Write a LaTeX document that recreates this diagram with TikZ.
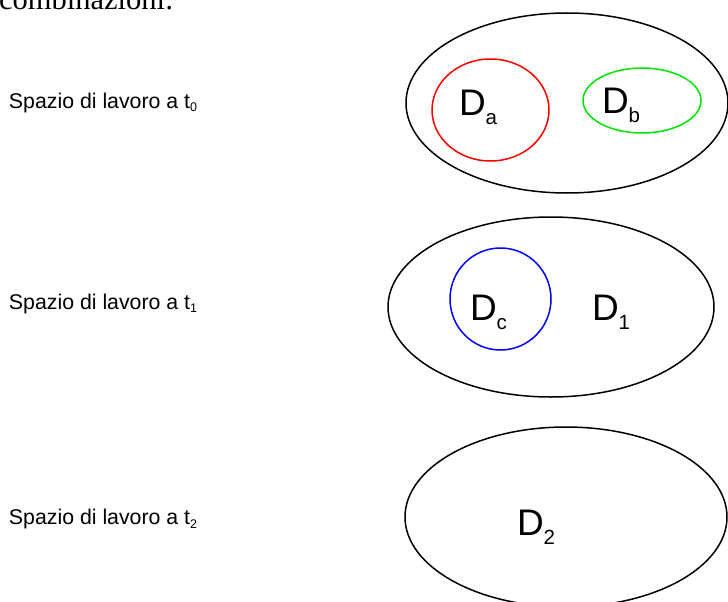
\documentclass[tikz,border=0pt]{standalone}
\usepackage{fontspec}
\setmainfont{Liberation Serif}
\newfontfamily\arialf{Liberation Sans}
\newcommand{\lbl}[1]{{\arialf\fontsize{21.3}{23}\selectfont Spazio di lavoro a t\raisebox{-3.5pt}{\fontsize{12.5}{13}\selectfont #1}}}
\newcommand{\dname}[1]{{\arialf\fontsize{37}{39}\selectfont D\raisebox{-9.5pt}{\fontsize{20.5}{21}\selectfont #1}}}
\tikzset{
  txt/.style={inner sep=0pt, outer sep=0pt, anchor=base west},
  ring/.style={line width=1.5pt},
}
\begin{document}
\begin{tikzpicture}[x=1pt,y=-1pt]
\useasboundingbox (0,0) rectangle (728,602);
\clip (0,0) rectangle (728,602);
% heading (cut off, as in the reference)
\node[txt] (head) at (-1,9.5) {\fontsize{30.5}{32}\selectfont combinazioni:};
% labels
\node[txt] (l0) at (9,108) {\lbl{0}};
\node[txt] (l1) at (9,309) {\lbl{1}};
\node[txt] (l2) at (9,524.5) {\lbl{2}};
% workspace t0
\draw[ring, black] (567,103) ellipse [x radius=161, y radius=90];
\draw[ring, red] (490.5,110) ellipse [x radius=58.5, y radius=51];
\draw[ring, green!90!black] (642,100.5) ellipse [x radius=59, y radius=32.5];
\node[txt] (da) at (459,115) {\dname{a}};
\node[txt] (db) at (602,113) {\dname{b}};
% workspace t1
\draw[ring, black] (551,307) ellipse [x radius=163, y radius=90];
\draw[ring, blue] (500.5,299) ellipse [x radius=50.5, y radius=51];
\node[txt] (dc) at (470,320) {\dname{c}};
\node[txt] (d1) at (592,320) {\dname{1}};
% workspace t2
\draw[ring, black] (566,517) ellipse [x radius=161, y radius=90];
\node[txt] (d2) at (517,535) {\dname{2}};
\end{tikzpicture}
\end{document}
